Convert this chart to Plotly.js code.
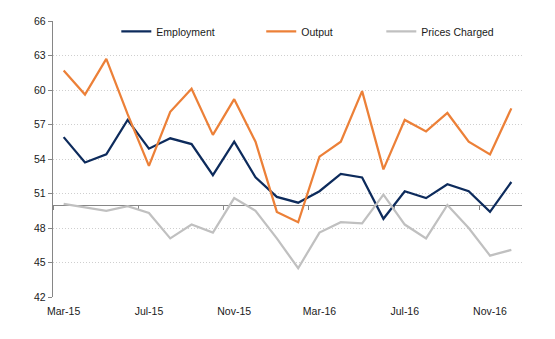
<!DOCTYPE html>
<html>
<head>
<meta charset="utf-8">
<script src="https://cdn.plot.ly/plotly-3.0.1.min.js"></script>
<style>html,body{margin:0;padding:0;background:#fff;}#chart{width:555px;height:339px;}</style>
</head>
<body>
<div id="chart"></div>
<script>
const months = ["Mar-15","Apr-15","May-15","Jun-15","Jul-15","Aug-15","Sep-15","Oct-15","Nov-15","Dec-15","Jan-16","Feb-16",
                "Mar-16","Apr-16","May-16","Jun-16","Jul-16","Aug-16","Sep-16","Oct-16","Nov-16","Dec-16"];
const employment = [55.9,53.7,54.4,57.4,54.9,55.8,55.3,52.6,55.5,52.4,50.7,50.2,
                    51.2,52.7,52.4,48.8,51.2,50.6,51.8,51.2,49.4,52.0];
const output = [61.7,59.6,62.7,57.9,53.4,58.1,60.1,56.1,59.2,55.5,49.4,48.5,
                54.2,55.5,59.9,53.1,57.4,56.4,58.0,55.5,54.4,58.4];
const pricesCharged = [50.1,49.8,49.5,49.9,49.3,47.1,48.3,47.6,50.6,49.5,47.1,44.5,
                       47.6,48.5,48.4,50.9,48.3,47.1,50.0,48.0,45.6,46.1];
const tickMonths = ["Mar-15","Jul-15","Nov-15","Mar-16","Jul-16","Nov-16"];
const yTicks = [42,45,48,51,54,57,60,63,66];
const seriesNames = ["Employment","Output","Prices Charged"];
const referenceLevel = 50;

const colors = ["#0d2b5c","#ec8038","#c0c0c0"];
const fontFam = "Liberation Sans, Arial, sans-serif";

const traces = [
  {x: months, y: employment, name: seriesNames[0], legend: "legend", line: {color: colors[0], width: 2.25}},
  {x: months, y: output, name: seriesNames[1], legend: "legend2", line: {color: colors[1], width: 2.25}},
  {x: months, y: pricesCharged, name: seriesNames[2], legend: "legend3", line: {color: colors[2], width: 2.25}}
].map(t => Object.assign({type: "scatter", mode: "lines", hoverinfo: "skip", xaxis: "x", yaxis: "y"}, t));

// empty trace so that the overlaid reference axis (line at 50) is drawn
traces.unshift({type: "scatter", mode: "lines", x: [], y: [], xaxis: "x2", yaxis: "y", showlegend: false, hoverinfo: "skip"});

// boundaries between categories every 4 months (tick marks on the 50 line)
const boundaryTicks = [];
for (let i = 0; i < months.length; i++) {
  if (tickMonths.indexOf(months[i]) >= 0) boundaryTicks.push(i - 0.5);
}
const lo = yTicks[0], hi = yTicks[yTicks.length - 1];

const legendBase = {orientation: "h", yanchor: "middle", xanchor: "left", y: 0.962,
  bgcolor: "rgba(0,0,0,0)", font: {family: fontFam, size: 10.5, color: "#1a1a1a"}, itemwidth: 30};

const layout = {
  width: 555, height: 339,
  margin: {l: 53, r: 33, t: 21, b: 42, pad: 0},
  paper_bgcolor: "#fff", plot_bgcolor: "#fff",
  showlegend: true,
  font: {family: fontFam, size: 10.5, color: "#1a1a1a"},
  xaxis: {
    type: "category", range: [-0.5, months.length - 0.5],
    tickmode: "array", tickvals: tickMonths, ticktext: tickMonths,
    showline: false, showgrid: false, zeroline: false, ticks: "",
    tickfont: {family: fontFam, size: 10.5, color: "#1a1a1a"}, ticklabelstandoff: 6
  },
  xaxis2: {
    type: "linear", overlaying: "x", anchor: "free", position: (referenceLevel - lo) / (hi - lo),
    range: [-0.5, months.length - 0.5],
    showline: true, linecolor: "#868686", linewidth: 1.3,
    ticks: "outside", ticklen: 4, tickcolor: "#868686", tickwidth: 1,
    tickmode: "array", tickvals: boundaryTicks, showticklabels: false,
    showgrid: false, zeroline: false, layer: "below traces"
  },
  yaxis: {
    range: [lo, hi], tickmode: "array", tickvals: yTicks,
    showline: true, linecolor: "#868686", linewidth: 1.3,
    ticks: "outside", ticklen: 4, tickcolor: "#868686",
    showgrid: true, gridcolor: "#cfcfcf", griddash: "1px,2px", gridwidth: 1,
    zeroline: false, tickfont: {family: fontFam, size: 10.5, color: "#1a1a1a"},
    layer: "below traces"
  },
  legend: Object.assign({}, legendBase, {x: 0.135}),
  legend2: Object.assign({}, legendBase, {x: 0.444}),
  legend3: Object.assign({}, legendBase, {x: 0.70})
};

Plotly.newPlot("chart", traces, layout, {staticPlot: true, displayModeBar: false});
</script>
</body>
</html>
